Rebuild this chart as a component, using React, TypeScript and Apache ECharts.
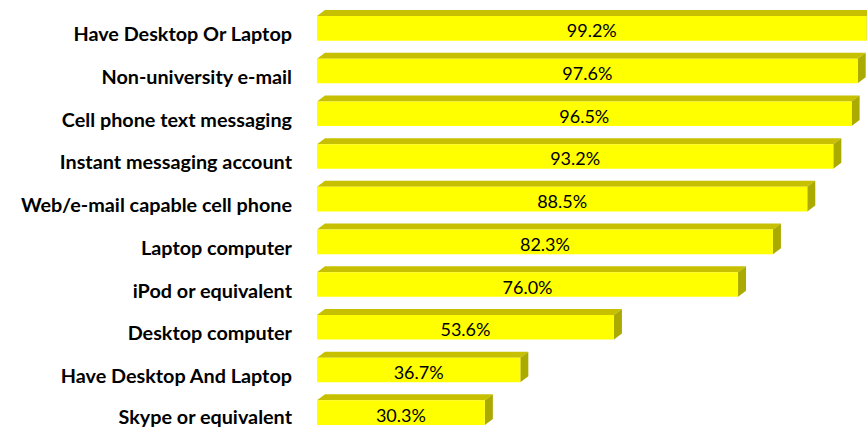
import React, { useEffect, useRef } from "react";
import * as echarts from "echarts";

const categories = [
  "Have Desktop Or Laptop",
  "Non-university e-mail",
  "Cell phone text messaging",
  "Instant messaging account",
  "Web/e-mail capable cell phone",
  "Laptop computer",
  "iPod or equivalent",
  "Desktop computer",
  "Have Desktop And Laptop",
  "Skype or equivalent",
];
const values = [99.2, 97.6, 96.5, 93.2, 88.5, 82.3, 76.0, 53.6, 36.7, 30.3];

export default function App() {
  const ref = useRef<HTMLDivElement>(null);
  useEffect(() => {
    if (!ref.current) return;
    const chart = echarts.init(ref.current, null, { renderer: "svg" });
    const dx = 8;
    const dy = 6;
    chart.setOption({
      animation: false,
      grid: { left: 317, right: 0, top: 7, bottom: -7, containLabel: false },
      xAxis: { type: "value", min: 0, max: 99.28, show: false },
      yAxis: {
        type: "category",
        data: categories,
        inverse: true,
        axisLine: { show: false },
        axisTick: { show: false },
        splitLine: { show: false },
        axisLabel: {
          margin: 25,
          formatter: (v: string, i: number) => (i === categories.length - 1 ? `{b|${v}}` : `{a|${v}}`),
          rich: {
            a: {
              color: "#000",
              fontFamily: "Lato",
              fontWeight: "bold",
              fontSize: 19.8,
              padding: [10, 0, 0, 0],
            },
            b: {
              color: "#000",
              fontFamily: "Lato",
              fontWeight: "bold",
              fontSize: 19.8,
              padding: [6, 0, 0, 0],
            },
          },
        },
      },
      series: [
        {
          type: "custom",
          data: values.map((v, i) => [v, i]),
          encode: { x: 0, y: 1 },
          clip: false,
          renderItem: (params: any, api: any) => {
            const v = api.value(0);
            const idx = api.value(1);
            const end = api.coord([v, idx]);
            const start = api.coord([0, idx]);
            const h = api.size([0, 1])[1] * 0.575;
            const x0 = start[0];
            const x1 = end[0];
            const yt = end[1] - h / 2;
            const yb = end[1] + h / 2;
            return {
              type: "group",
              children: [
                {
                  type: "polygon",
                  shape: { points: [[x0, yt], [x0 + dx, yt - dy], [x1 + dx, yt - dy], [x1, yt]] },
                  style: { fill: "#C6C000" },
                },
                {
                  type: "polygon",
                  shape: { points: [[x1, yt], [x1 + dx, yt - dy], [x1 + dx, yb - dy], [x1, yb]] },
                  style: { fill: "#ABAA00" },
                },
                {
                  type: "rect",
                  shape: { x: x0, y: yt, width: x1 - x0, height: yb - yt },
                  style: { fill: "#FFFF00" },
                },
                {
                  type: "text",
                  x: (x0 + x1) / 2,
                  y: end[1] + 2,
                  style: {
                    text: v.toFixed(1) + "%",
                    fill: "#000",
                    fontSize: 18,
                    fontFamily: "Lato",
                    align: "center",
                    verticalAlign: "middle",
                  },
                },
              ],
            };
          },
        },
      ],
    });
    return () => chart.dispose();
  }, []);
  return <div ref={ref} style={{ width: 867, height: 434, position: "absolute", left: 0, top: 0 }} />;
}
